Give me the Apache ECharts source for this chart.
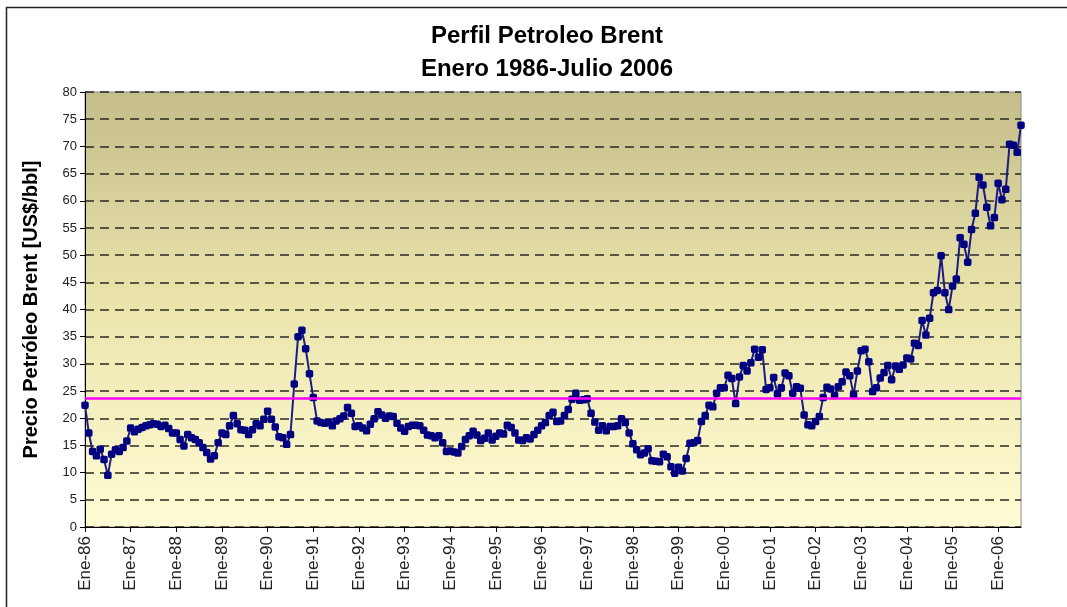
<!DOCTYPE html>
<html>
<head>
<meta charset="utf-8">
<script src="https://cdn.jsdelivr.net/npm/echarts@6/dist/echarts.min.js"></script>
<style>
  html, body { margin: 0; padding: 0; background: #fff; }
  #main { width: 1067px; height: 607px; }
</style>
</head>
<body>
<div id="main"></div>
<script>
// meses y años para las etiquetas del eje
var meses = ["Ene", "Feb", "Mar", "Abr", "May", "Jun", "Jul", "Ago", "Sep", "Oct", "Nov", "Dic"];
var anios = ["86", "87", "88", "89", "90", "91", "92", "93", "94", "95", "96", "97", "98", "99", "00", "01", "02", "03", "04", "05", "06"];

// precio mensual Brent (US$/bbl)
var p1986 = [22.4, 17.3, 13.9, 13.1, 14.3, 12.4, 9.5, 13.4, 14.2, 13.9, 14.6, 15.8];
var p1987 = [18.2, 17.5, 18.0, 18.3, 18.6, 18.8, 19.0, 18.9, 18.5, 18.7, 18.1, 17.3];
var p1988 = [17.3, 16.1, 14.9, 17.0, 16.4, 16.1, 15.5, 14.6, 13.7, 12.5, 13.1, 15.5];
var p1989 = [17.3, 17.0, 18.6, 20.5, 19.0, 17.9, 17.8, 17.0, 17.9, 19.0, 18.6, 19.8];
var p1990 = [21.3, 19.8, 18.4, 16.6, 16.4, 15.2, 17.0, 26.3, 35.0, 36.2, 32.8, 28.2];
var p1991 = [23.8, 19.5, 19.2, 19.1, 19.2, 18.6, 19.5, 19.9, 20.4, 22.0, 20.9, 18.5];
var p1992 = [18.6, 18.2, 17.7, 18.9, 19.9, 21.2, 20.6, 20.0, 20.4, 20.3, 19.1, 18.2];
var p1993 = [17.6, 18.5, 18.7, 18.7, 18.6, 17.8, 16.9, 16.8, 16.4, 16.8, 15.5, 13.9];
var p1994 = [14.0, 13.8, 13.6, 14.8, 16.1, 16.8, 17.6, 16.9, 15.9, 16.3, 17.3, 16.0];
var p1995 = [16.7, 17.3, 17.1, 18.7, 18.3, 17.3, 16.0, 15.9, 16.4, 16.2, 17.0, 17.8];
var p1996 = [18.6, 19.2, 20.5, 21.1, 19.4, 19.5, 20.5, 21.6, 23.5, 24.6, 23.3, 23.4];
var p1997 = [23.6, 20.9, 19.3, 17.8, 18.6, 17.7, 18.5, 18.5, 18.6, 19.9, 19.2, 17.3];
var p1998 = [15.3, 14.2, 13.3, 13.6, 14.4, 12.2, 12.1, 12.0, 13.4, 12.9, 11.1, 9.9];
var p1999 = [11.0, 10.3, 12.6, 15.4, 15.5, 15.9, 19.4, 20.5, 22.4, 22.1, 24.6, 25.6];
var p2000 = [25.6, 27.9, 27.3, 22.7, 27.6, 29.7, 28.7, 30.2, 32.7, 31.2, 32.6, 25.3];
var p2001 = [25.6, 27.5, 24.5, 25.6, 28.3, 27.8, 24.6, 25.8, 25.5, 20.6, 18.8, 18.6];
var p2002 = [19.4, 20.3, 23.8, 25.7, 25.4, 24.2, 25.8, 26.7, 28.5, 27.8, 24.3, 28.7];
var p2003 = [32.4, 32.7, 30.4, 24.9, 25.6, 27.4, 28.4, 29.7, 27.1, 29.6, 29.0, 29.8];
var p2004 = [31.1, 30.9, 33.8, 33.4, 38.0, 35.3, 38.4, 43.1, 43.5, 49.9, 43.1, 40.0];
var p2005 = [44.3, 45.6, 53.2, 52.0, 48.7, 54.7, 57.7, 64.3, 62.9, 58.8, 55.4, 56.9];
var p2006 = [63.2, 60.2, 62.1, 70.4, 70.2, 68.9, 73.9];

// linea de promedio (magenta)
var promedio = 23.6;

var precios = [].concat(p1986, p1987, p1988, p1989, p1990, p1991, p1992, p1993, p1994,
  p1995, p1996, p1997, p1998, p1999, p2000, p2001, p2002, p2003, p2004, p2005, p2006);

var categorias = [];
for (var i = 0; i < precios.length; i++) {
  categorias.push(meses[i % 12] + "-" + anios[Math.floor(i / 12)]);
}

var chart = echarts.init(document.getElementById("main"));
var fuente = "Liberation Sans, Arial, sans-serif";

chart.setOption({
  animation: false,
  backgroundColor: "#fff",
  graphic: [
    {
      type: "rect",
      shape: { x: 6.5, y: 7.5, width: 1080, height: 620 },
      style: { fill: null, stroke: "#222", lineWidth: 1.5 },
      silent: true
    }
  ],
  title: [
    {
      text: "Perfil Petroleo Brent",
      left: 542, top: 19, textAlign: "center",
      textStyle: { fontFamily: fuente, fontSize: 24, fontWeight: "bold", color: "#000" }
    },
    {
      text: "Enero 1986-Julio 2006",
      left: 542, top: 52, textAlign: "center",
      textStyle: { fontFamily: fuente, fontSize: 24, fontWeight: "bold", color: "#000" }
    }
  ],
  grid: {
    left: 85, right: 46, top: 92, bottom: 80,
    show: true,
    borderColor: "#8a8a8a",
    borderWidth: 1,
    backgroundColor: new echarts.graphic.LinearGradient(0, 0, 0, 1, [
      { offset: 0, color: "#c4bd8a" },
      { offset: 0.5, color: "#ebe5ad" },
      { offset: 1, color: "#fffcd4" }
    ])
  },
  xAxis: {
    type: "category",
    data: categorias,
    boundaryGap: false,
    axisLine: { lineStyle: { color: "#000", width: 1 } },
    axisTick: { show: true, interval: 11, length: 5, lineStyle: { color: "#000" } },
    axisLabel: {
      interval: 11, rotate: 90, margin: 9,
      fontFamily: fuente, fontSize: 17, color: "#222"
    },
    splitLine: { show: false }
  },
  yAxis: {
    type: "value",
    min: 0, max: 80, interval: 5,
    name: "Precio Petróleo Brent [US$/bbl]",
    nameLocation: "middle",
    nameGap: 44,
    nameRotate: 90,
    nameTextStyle: { fontFamily: fuente, fontSize: 20, fontWeight: "bold", color: "#000" },
    axisLine: { show: true, lineStyle: { color: "#000", width: 1 } },
    axisTick: { show: true, length: 5, lineStyle: { color: "#000" } },
    axisLabel: { fontFamily: fuente, fontSize: 13, color: "#222", margin: 8 },
    splitLine: {
      show: true,
      lineStyle: { color: "#2a2a22", width: 1.5, type: [9, 6] }
    }
  },
  series: [
    {
      type: "line",
      data: precios,
      symbol: "roundRect",
      symbolSize: 7.5,
      showAllSymbol: true,
      lineStyle: { color: "#1c1c80", width: 2 },
      itemStyle: { color: "#000080" },
      markLine: {
        silent: true,
        symbol: "none",
        label: { show: false },
        lineStyle: { color: "#ff00ff", width: 2.5, type: "solid" },
        data: [{ yAxis: promedio }]
      },
      z: 3
    }
  ]
});
</script>
</body>
</html>
